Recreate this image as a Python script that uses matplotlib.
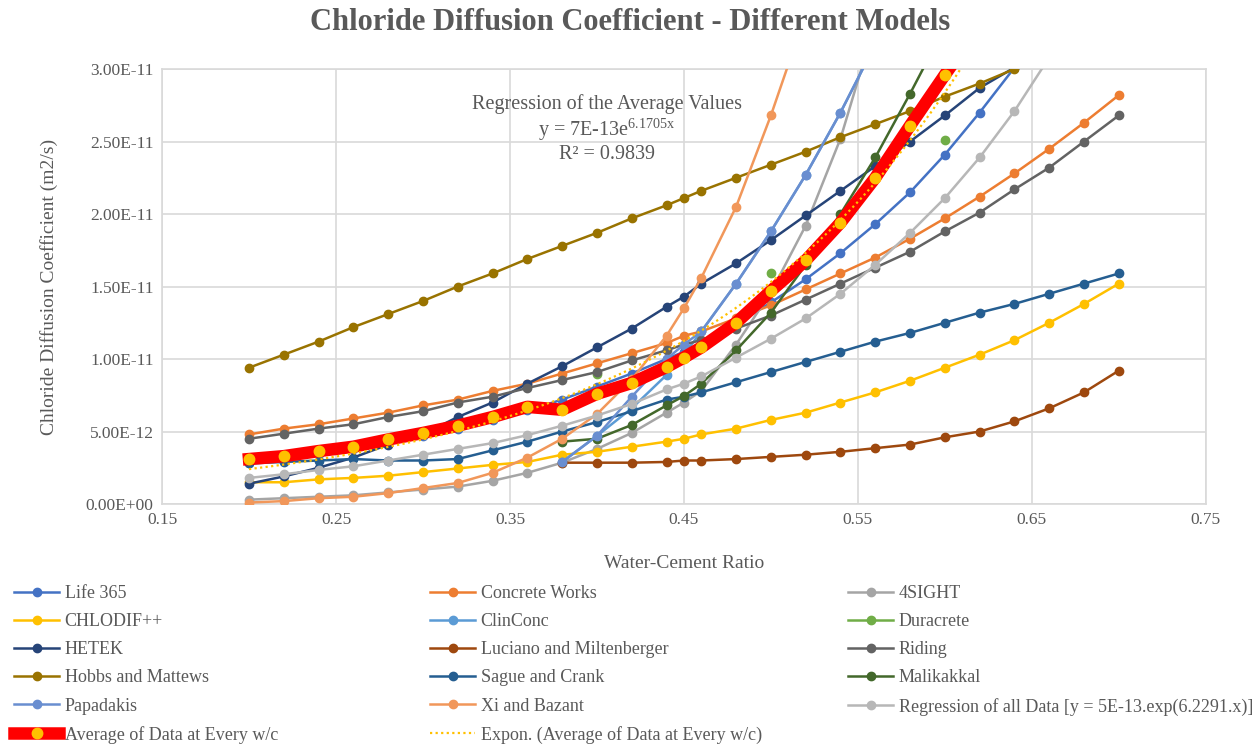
import matplotlib
matplotlib.use("Agg")
import matplotlib.pyplot as plt
import numpy as np
from matplotlib.ticker import FuncFormatter, MultipleLocator, FixedLocator

plt.rcParams['font.family'] = ['Liberation Serif', 'DejaVu Serif']
plt.rcParams['mathtext.fontset'] = 'custom'
plt.rcParams['mathtext.rm'] = 'Liberation Serif'
plt.rcParams['mathtext.it'] = 'Liberation Serif'

# водоцементне відношення (спільна вісь x)
wc = [0.20, 0.22, 0.24, 0.26, 0.28, 0.30, 0.32, 0.34, 0.36, 0.38, 0.40, 0.42, 0.44, 0.45,
      0.46, 0.48, 0.50, 0.52, 0.54, 0.56, 0.58, 0.60, 0.62, 0.64, 0.66, 0.68, 0.70]
scale = 1e-12  # значення нижче записані в одиницях 1E-12 m2/s
N = None

life365 = [2.8, 3.1, 3.45, 3.8, 4.25, 4.7, 5.2, 5.8, 6.45, 7.2, 8.1, 9.0, 10.0, 10.5,
           11.1, 12.4, 13.9, 15.5, 17.3, 19.3, 21.5, 24.1, 27.0, 30.1, 33.6, N, N]
concrete_works = [4.8, 5.2, 5.5, 5.9, 6.3, 6.8, 7.2, 7.8, 8.3, 9.0, 9.7, 10.4, 11.1, 11.6,
                  11.9, 12.8, 13.7, 14.8, 15.9, 17.0, 18.3, 19.7, 21.2, 22.8, 24.5, 26.3, 28.2]
foursight = [0.3, 0.4, 0.5, 0.6, 0.8, 1.0, 1.2, 1.6, 2.15, 2.85, 3.8, 4.9, 6.3, 7.0,
             7.8, 11.0, 14.6, 19.2, 25.2, 33.2, N, N, N, N, N, N, N]
chlodif = [1.5, 1.5, 1.7, 1.8, 1.95, 2.2, 2.45, 2.7, 2.9, 3.4, 3.6, 3.95, 4.3, 4.5,
           4.8, 5.2, 5.8, 6.3, 7.0, 7.7, 8.5, 9.4, 10.3, 11.3, 12.5, 13.8, 15.2]
clinconc = [N, N, N, N, N, N, N, N, N, 2.9, 4.7, 6.6, 8.9, 10.3,
            11.9, 15.2, 18.8, 22.7, 27.0, 31.7, N, N, N, N, N, N, N]
duracrete = [N, N, N, N, N, N, N, N, N, N, 9.0, N, N, N,
             N, N, 15.9, N, N, N, N, 25.1, N, N, N, N, N]
hetek = [1.4, 1.9, 2.5, 3.2, 4.1, 4.8, 6.0, 7.0, 8.3, 9.5, 10.8, 12.1, 13.6, 14.3,
         15.2, 16.6, 18.2, 19.9, 21.6, 23.3, 25.0, 26.8, 28.7, 30.1, 31.9, N, N]
luciano = [N, N, N, N, N, N, N, N, N, 2.85, 2.85, 2.85, 2.9, 3.0,
           3.0, 3.1, 3.25, 3.4, 3.6, 3.85, 4.1, 4.6, 5.0, 5.7, 6.6, 7.7, 9.2]
riding = [4.5, 4.85, 5.2, 5.5, 6.0, 6.4, 7.0, 7.4, 8.0, 8.55, 9.1, 9.9, 10.6, 11.0,
          11.3, 12.1, 13.0, 14.1, 15.2, 16.3, 17.4, 18.8, 20.1, 21.7, 23.2, 25.0, 26.8]
hobbs = [9.4, 10.3, 11.2, 12.2, 13.1, 14.0, 15.0, 15.9, 16.9, 17.8, 18.7, 19.7, 20.6, 21.1,
         21.6, 22.5, 23.4, 24.3, 25.3, 26.2, 27.1, 28.1, 29.0, 30.0, 31.0, N, N]
sague = [2.8, 2.9, 3.0, 3.1, 3.0, 3.0, 3.1, 3.7, 4.3, 5.0, 5.65, 6.4, 7.2, 7.4,
         7.7, 8.4, 9.1, 9.8, 10.5, 11.2, 11.8, 12.5, 13.2, 13.8, 14.5, 15.2, 15.9]
malikakkal = [N, N, N, N, N, N, N, N, N, 4.3, 4.5, 5.45, 6.8, 7.45,
              8.3, 10.6, 13.2, 16.5, 20.0, 23.9, 28.3, 32.9, N, N, N, N, N]
papadakis = [N, N, N, N, N, N, N, N, N, 2.9, 4.7, 7.4, 10.0, 11.0,
             11.9, 15.2, 18.8, 22.7, 27.0, 31.7, N, N, N, N, N, N, N]
xi_bazant = [0.1, 0.2, 0.4, 0.5, 0.75, 1.1, 1.45, 2.15, 3.2, 4.5, 6.2, 8.6, 11.6, 13.5,
             15.6, 20.5, 26.8, 33.8, N, N, N, N, N, N, N, N, N]
regression_all = [1.8, 2.05, 2.35, 2.6, 3.0, 3.4, 3.8, 4.2, 4.75, 5.4, 6.1, 6.9, 7.9, 8.3,
                  8.8, 10.1, 11.4, 12.8, 14.5, 16.5, 18.7, 21.1, 23.9, 27.1, 30.8, N, N]
average = [3.1, 3.3, 3.65, 3.95, 4.45, 4.9, 5.4, 6.0, 6.7, 6.5, 7.6, 8.35, 9.45, 10.1,
           10.8, 12.5, 14.7, 16.8, 19.4, 22.5, 26.1, 29.6, 33.0, N, N, N, N]

# рівняння тренду з підпису на графіку: y = a*exp(b*x)
trend_a = 7e-13
trend_b = 6.1705

x_ticks = [0.15, 0.25, 0.35, 0.45, 0.55, 0.65, 0.75]

series = [
    ("Life 365", life365, "#4472C4"),
    ("Concrete Works", concrete_works, "#ED7D31"),
    ("4SIGHT", foursight, "#A5A5A5"),
    ("CHLODIF++", chlodif, "#FFC000"),
    ("ClinConc", clinconc, "#5B9BD5"),
    ("Duracrete", duracrete, "#70AD47"),
    ("HETEK", hetek, "#264478"),
    ("Luciano and Miltenberger", luciano, "#9E480E"),
    ("Riding", riding, "#636363"),
    ("Hobbs and Mattews", hobbs, "#997300"),
    ("Sague and Crank", sague, "#255E91"),
    ("Malikakkal", malikakkal, "#43682B"),
    ("Papadakis", papadakis, "#698ED0"),
    ("Xi and Bazant", xi_bazant, "#F1975A"),
    ("Regression of all Data [y = 5E-13.exp(6.2291.x)]", regression_all, "#B7B7B7"),
]

text_col = "#595959"
grid_col = "#D9D9D9"

fig = plt.figure(figsize=(12.6, 7.47), dpi=100)
ax = fig.add_axes([0.1286, 0.3253, 0.8284, 0.5823])

x = np.array(wc)
handles = []
for name, vals, col in series:
    y = np.array(vals, dtype=float) * scale
    h, = ax.plot(x, y, color=col, lw=1.8, marker='o', ms=6, label=name, zorder=3)
    handles.append(h)

y_avg = np.array(average, dtype=float) * scale
h, = ax.plot(x, y_avg, color='red', lw=9, marker='o', ms=7.5, mfc='#FFC000', mec='#FFC000',
             label="Average of Data at Every w/c", zorder=4)
handles.append(h)

xt = np.linspace(min(wc), max(wc), 200)
h, = ax.plot(xt, trend_a * np.exp(trend_b * xt), color='#FFC000', lw=1.6, ls=(0, (1, 1.5)),
             label="Expon. (Average of Data at Every w/c)", zorder=5)
handles.append(h)

ax.set_xlim(0.15, 0.75)
ax.set_ylim(0, 3e-11)
ax.xaxis.set_major_locator(FixedLocator(x_ticks))
ax.yaxis.set_major_locator(MultipleLocator(0.5e-11))
ax.xaxis.set_major_formatter(FuncFormatter(lambda v, p: f"{v:.2f}"))
ax.yaxis.set_major_formatter(FuncFormatter(lambda v, p: f"{v:.2E}"))
ax.tick_params(length=0, labelsize=12.5, colors=text_col, pad=6)
ax.grid(True, color=grid_col, lw=1.2)
ax.set_axisbelow(True)
for s in ax.spines.values():
    s.set_color(grid_col)
    s.set_linewidth(1.2)

ax.set_xlabel("Water-Cement Ratio", fontsize=14, color=text_col, labelpad=19)
ax.set_ylabel("Chloride Diffusion Coefficient (m2/s)", fontsize=14, color=text_col, labelpad=20)
fig.text(0.5, 0.97, "Chloride Diffusion Coefficient - Different Models", ha='center', va='center',
         fontsize=22, fontweight='bold', color=text_col)

ax.text(0.4057, 2.83e-11, "Regression of the Average Values\ny = 7E-13e$^{6.1705x}$\nR² = 0.9839",
        ha='center', va='top', fontsize=14.5, color=text_col, linespacing=1.15)

# легенда: три окремі стовпці, записи йдуть по рядках
col_x = [14 / 1260, 430 / 1260, 848 / 1260]
for c in range(3):
    hs = handles[c::3]
    leg = fig.legend(hs, [hh.get_label() for hh in hs], loc='upper left',
                     bbox_to_anchor=(col_x[c], 0.217), frameon=False, fontsize=13,
                     handlelength=2.5, labelspacing=0.62, handletextpad=0.3,
                     borderaxespad=0, borderpad=0)
    for t in leg.get_texts():
        t.set_color(text_col)

fig.savefig("out.png", dpi=100)
